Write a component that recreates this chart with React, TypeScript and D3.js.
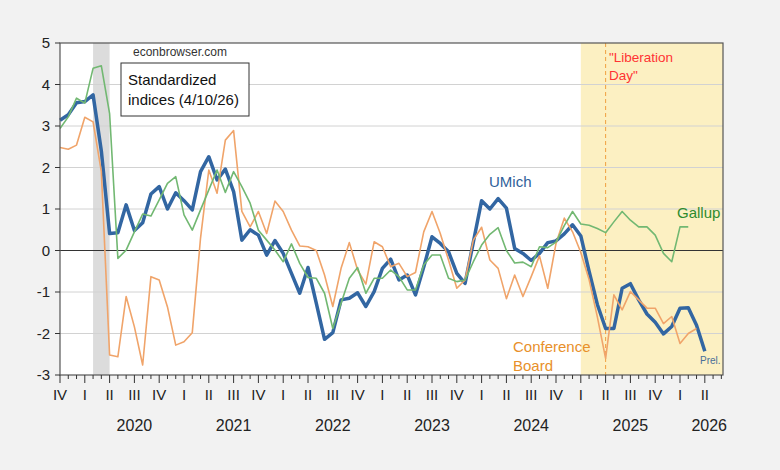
import * as d3 from "d3";
import * as React from "react";

// monthly observations, first one is 2019M10
const firstYear = 2019;
const firstMonth = 9; // October, 0-based

const umich = [
  3.14, 3.27, 3.56, 3.59, 3.75, 2.4, 0.41, 0.43, 1.1, 0.48, 0.67, 1.36, 1.54, 1.0, 1.39, 1.2,
  0.98, 1.9, 2.26, 1.7, 1.96, 1.42, 0.25, 0.5, 0.37, -0.11, 0.24, -0.07, -0.55, -1.03, -0.41,
  -1.27, -2.14, -1.98, -1.19, -1.15, -1.02, -1.35, -0.99, -0.43, -0.21, -0.71, -0.59, -1.07,
  -0.4, 0.33, 0.17, -0.03, -0.55, -0.79, 0.2, 1.2, 1.0, 1.25, 1.02, 0.05, -0.07, -0.24, -0.07,
  0.19, 0.23, 0.4, 0.62, 0.35, -0.5, -1.3, -1.88, -1.88, -0.91, -0.8, -1.19, -1.53, -1.73,
  -2.01, -1.83, -1.39, -1.38, -1.8, -2.43,
];

const gallup = [
  2.94, 3.22, 3.67, 3.55, 4.39, 4.45, 3.3, -0.19, 0.01, 0.45, 0.88, 0.83, 1.22, 1.62, 1.78,
  0.86, 0.49, 0.98, 1.46, 1.94, 1.4, 1.9, 1.54, 1.14, 0.49, 0.25, 0.01, -0.27, 0.16, -0.31,
  -0.65, -0.67, -1.03, -1.88, -1.27, -0.67, -0.41, -1.03, -0.67, -0.67, -0.47, -0.63, -0.95,
  -0.95, -0.35, -0.11, -0.11, -0.67, -0.75, -0.71, -0.27, 0.13, 0.39, 0.55, 0.0, -0.3, -0.28,
  -0.39, 0.09, 0.07, 0.2, 0.6, 0.94, 0.64, 0.61, 0.53, 0.43, 0.69, 0.94, 0.73, 0.57, 0.57,
  0.37, -0.07, -0.27, 0.57, 0.57,
];

const confBoard = [
  2.48, 2.44, 2.54, 3.21, 3.1, 1.9, -2.52, -2.56, -1.11, -1.84, -2.76, -0.63, -0.71, -1.36,
  -2.28, -2.2, -1.98, 0.3, 1.94, 1.38, 2.66, 2.89, 0.94, 0.57, 0.94, 0.41, 1.19, 0.94, 0.49,
  0.11, 0.09, 0.0, -0.59, -1.35, -0.43, 0.19, -0.47, -0.81, 0.21, 0.09, -0.39, -0.31, -0.63,
  -0.53, 0.45, 0.94, 0.41, -0.23, -0.91, -0.71, 0.25, 0.56, -0.23, -0.43, -1.16, -0.59, -1.11,
  -0.63, -0.13, -0.91, 0.17, 0.78, 0.45, -0.05, -0.7, -1.6, -2.6, -1.07, -1.43, -0.99, -1.19,
  -1.39, -1.39, -1.76, -1.59, -2.24, -2.0, -1.88,
];

const quarterLabels = ["I", "II", "III", "IV"];
const yearLabels = [2020, 2021, 2022, 2023, 2024, 2025, 2026];
const yTicks = [-3, -2, -1, 0, 1, 2, 3, 4, 5];
const recession: [number, number][] = [[2020, 1], [2020, 3]]; // Feb-Apr 2020
const shadeStart: [number, number] = [2025, 0]; // Jan 2025
const liberationDay: [number, number] = [2025, 3]; // Apr 2025

const monthIndex = (y: number, m: number) => (y - firstYear) * 12 + m - firstMonth;

const W = 780;
const H = 470;
const left = 60;
const right = 723;
const top = 43;
const bottom = 375;
const font = "'Liberation Sans', Arial, sans-serif";

export default function App(): JSX.Element {
  const x = d3.scaleLinear().domain([0, 80.2]).range([left, right]);
  const y = d3.scaleLinear().domain([-3, 5]).range([bottom, top]);

  const line = d3.line<number>().x((_, i) => x(i)).y((d) => y(d));

  const months = d3.range(0, 81);
  const recX0 = x(monthIndex(...recession[0]));
  const recX1 = x(monthIndex(...recession[1]));
  const shadeX = x(monthIndex(...shadeStart));
  const libX = x(monthIndex(...liberationDay));

  return (
    <svg
      width={W}
      height={H}
      style={{ position: "absolute", left: 0, top: 0, display: "block" }}
      fontFamily={font}
    >
      <rect width={W} height={H} fill="#f2f2f2" />
      <rect x={left} y={top} width={right - left} height={bottom - top} fill="#ffffff" />
      <rect x={recX0} y={top} width={recX1 - recX0} height={bottom - top} fill="#dcdcdc" />
      <rect x={shadeX} y={top} width={right - shadeX} height={bottom - top} fill="#fcf0c2" />

      {yTicks.filter((t) => t !== 0 && t !== 5 && t !== -3).map((t) => (
        <line key={t} x1={left} x2={right} y1={y(t)} y2={y(t)} stroke="#d2d2d2" strokeWidth={1} />
      ))}
      <line x1={left} x2={right} y1={y(0)} y2={y(0)} stroke="#333" strokeWidth={1} />

      <line x1={libX} x2={libX} y1={top} y2={bottom} stroke="#f0a040" strokeWidth={1} strokeDasharray="4,3" />

      <path d={line(umich) ?? ""} fill="none" stroke="#3266a2" strokeWidth={3.5} strokeLinejoin="round" />
      <path d={line(confBoard) ?? ""} fill="none" stroke="#f0a46a" strokeWidth={1.6} strokeLinejoin="round" />
      <path d={line(gallup) ?? ""} fill="none" stroke="#72b872" strokeWidth={1.6} strokeLinejoin="round" />

      <rect x={left} y={top} width={right - left} height={bottom - top} fill="none" stroke="#555" strokeWidth={1.2} />

      {yTicks.map((t) => (
        <g key={t}>
          <line x1={left - 5} x2={left} y1={y(t)} y2={y(t)} stroke="#333" />
          <text x={left - 10} y={y(t)} dy="0.36em" textAnchor="end" fontSize={15} fill="#222">
            {t}
          </text>
        </g>
      ))}

      {months.map((i) => {
        const major = (firstMonth + i) % 3 === 0;
        return (
          <line key={i} x1={x(i)} x2={x(i)} y1={bottom} y2={bottom + (major ? 8 : 4)} stroke="#333" />
        );
      })}
      {months
        .filter((i) => (firstMonth + i) % 3 === 0)
        .map((i) => (
          <text key={i} x={x(i)} y={400} textAnchor="middle" fontSize={15} fill="#222">
            {quarterLabels[((firstMonth + i) % 12) / 3]}
          </text>
        ))}
      {yearLabels.map((yr) => {
        const xm = x(monthIndex(yr, 6));
        const clipped = xm > right;
        return (
          <text
            key={yr}
            x={clipped ? right + 4 : xm}
            y={431}
            textAnchor={clipped ? "end" : "middle"}
            fontSize={16}
            fill="#222"
          >
            {yr}
          </text>
        );
      })}

      <text x={133} y={56} fontSize={12} fill="#333">econbrowser.com</text>
      <rect x={121} y={63} width={128} height={53} fill="#fff" stroke="#333" strokeWidth={1} />
      <text x={128} y={85} fontSize={15} fill="#111">Standardized</text>
      <text x={128} y={105} fontSize={15} fill="#111">indices (4/10/26)</text>

      <text x={489} y={187} fontSize={15} fill="#2f5f9a">UMich</text>
      <text x={677} y={218} fontSize={15} fill="#2e8b2e">Gallup</text>
      <text x={513} y={352} fontSize={15} fill="#e8902a">Conference</text>
      <text x={513} y={371} fontSize={15} fill="#e8902a">Board</text>
      <text x={609} y={62} fontSize={13.5} fill="#ff3333">"Liberation</text>
      <text x={609} y={80} fontSize={13.5} fill="#ff3333">Day"</text>
      <text x={700} y={364} fontSize={10} fill="#4a6f99">Prel.</text>
    </svg>
  );
}
